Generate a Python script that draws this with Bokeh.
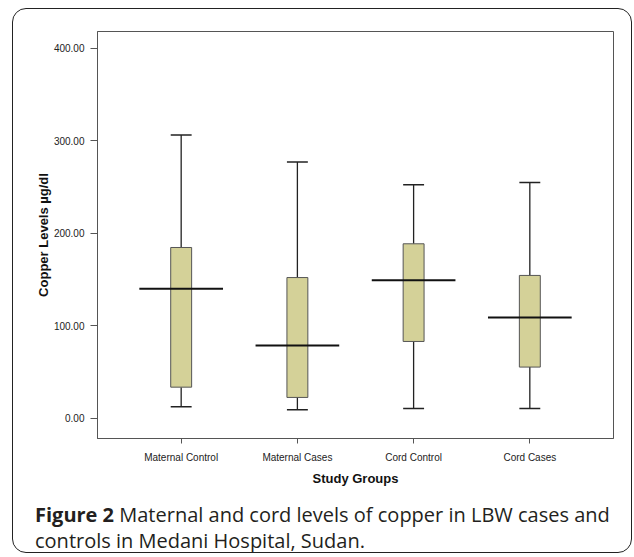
from bokeh.plotting import figure
from bokeh.models import (ColumnDataSource, FactorRange, Div,
                          NumeralTickFormatter, FixedTicker)
from bokeh.layouts import column
from bokeh.transform import dodge
from bokeh.embed import file_html
from bokeh.resources import INLINE

groups = ["Maternal Control", "Maternal Cases", "Cord Control", "Cord Cases"]
lower = [12.3, 9.0, 10.5, 10.5]
q1 = [33.5, 22.4, 82.9, 55.2]
median = [140.0, 78.6, 149.2, 108.9]
q3 = [184.5, 152.0, 188.5, 154.3]
upper = [306.0, 277.0, 252.3, 254.8]
y_ticks = [0, 100, 200, 300, 400]

cap_bold = "Figure 2"
cap_line1 = "Maternal and cord levels of copper in LBW cases and"
cap_line2 = "controls in Medani Hospital, Sudan."

src = ColumnDataSource(dict(g=groups, lower=lower, q1=q1, median=median, q3=q3, upper=upper))

W, H = 617, 479
p = figure(width=W, height=H, x_range=FactorRange(factors=groups, range_padding=0.11),
           y_range=(-22, 418), output_backend="svg", toolbar_location=None,
           min_border_left=83, min_border_right=18, min_border_top=21, min_border_bottom=51)
p.xgrid.visible = False
p.ygrid.visible = False
p.outline_line_color = "#555555"
p.outline_line_width = 1
p.background_fill_color = "white"
p.border_fill_color = None

FONT = "Liberation Sans"
for ax in (p.xaxis[0], p.yaxis[0]):
    ax.axis_line_color = "#555555"
    ax.major_tick_line_color = "#555555"
    ax.minor_tick_line_color = None
    ax.major_tick_in = 0
    ax.major_label_text_font = FONT
    ax.major_label_text_font_size = "10px"
    ax.major_label_text_color = "#222222"
    ax.axis_label_text_font = FONT
    ax.axis_label_text_font_style = "bold"
    ax.axis_label_text_font_size = "13px"
    ax.axis_label_text_color = "#111111"

p.yaxis.ticker = FixedTicker(ticks=y_ticks)
p.yaxis.formatter = NumeralTickFormatter(format="0.00")
p.yaxis.major_tick_out = 7
p.yaxis.major_label_standoff = 6
p.yaxis.axis_label = "Copper Levels µg/dl"
p.yaxis.axis_label_standoff = 0

p.xaxis.major_tick_out = 5
p.xaxis.major_label_standoff = 8
p.xaxis.axis_label = "Study Groups"
p.xaxis.axis_label_standoff = 5

# whiskers
p.segment(x0="g", x1="g", y0="lower", y1="q1", source=src, line_color="#222222", line_width=1.3)
p.segment(x0="g", x1="g", y0="q3", y1="upper", source=src, line_color="#222222", line_width=1.3)
# caps
p.segment(x0=dodge("g", -0.09, range=p.x_range), x1=dodge("g", 0.09, range=p.x_range),
          y0="lower", y1="lower", source=src, line_color="#222222", line_width=1.5)
p.segment(x0=dodge("g", -0.09, range=p.x_range), x1=dodge("g", 0.09, range=p.x_range),
          y0="upper", y1="upper", source=src, line_color="#222222", line_width=1.5)
# boxes
p.vbar(x="g", width=0.18, bottom="q1", top="q3", source=src,
       fill_color="#d4d198", line_color="#555555", line_width=1)
# medians
p.segment(x0=dodge("g", -0.36, range=p.x_range), x1=dodge("g", 0.36, range=p.x_range),
          y0="median", y1="median", source=src, line_color="#111111", line_width=2)

border_box = ('<div style="position:fixed; left:12px; top:8px; width:620px; height:545px; '
              'box-sizing:border-box; border:1.5px solid #222222; border-radius:14px; '
              'pointer-events:none; background:transparent;"></div>')

caption = Div(
    text=(border_box +
          '<div style="padding:8px 0 0 16.5px; font-family:\'Open Sans\'; font-size:20px; '
          'line-height:26.5px; color:#231f20; white-space:nowrap;">'
          f'<b>{cap_bold}</b> {cap_line1}<br>{cap_line2}</div>'),
    width=W, height=63)

layout = column(p, caption, width=W, height=H + 63, sizing_mode="fixed",
                styles={"margin-left": "13.5px", "margin-top": "9.5px"})

open("out.html", "w").write(file_html(layout, INLINE))
